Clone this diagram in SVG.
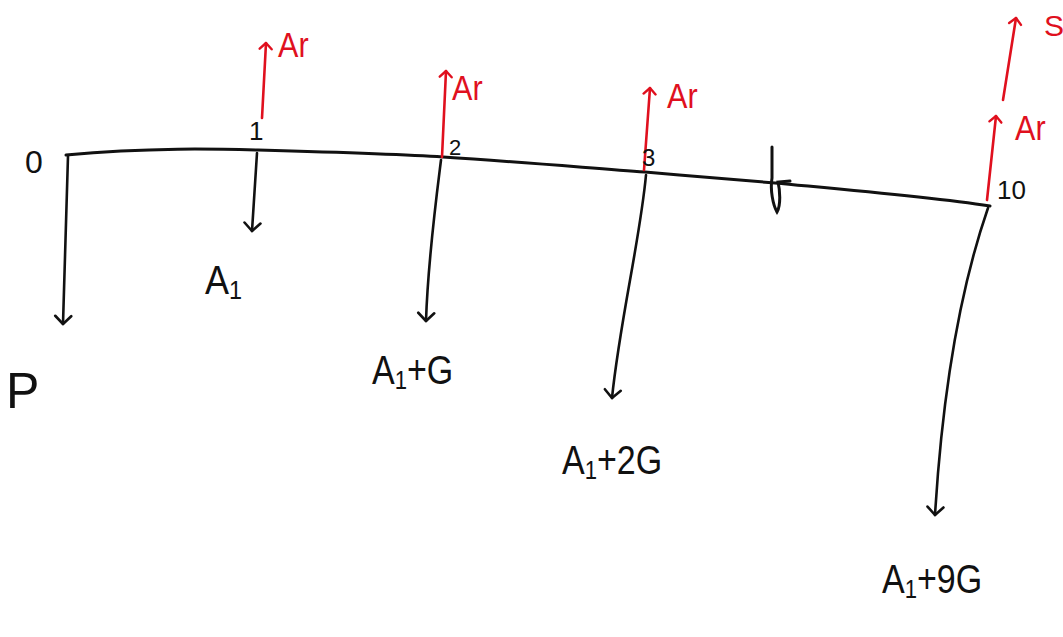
<svg xmlns="http://www.w3.org/2000/svg" width="1063" height="637" viewBox="0 0 1063 637">
<style>
.ax{fill:none;stroke:#111;stroke-width:3;stroke-linecap:round}
.dn{fill:none;stroke:#111;stroke-width:2.6;stroke-linecap:round;marker-end:url(#hb)}
.up{fill:none;stroke:#e0101e;stroke-width:2.6;stroke-linecap:round;marker-end:url(#hr)}
.t{font-family:"Liberation Sans",sans-serif;fill:#111}
.tr{font-family:"Liberation Sans",sans-serif;fill:#e0101e}
</style>
<defs>
<marker id="hb" viewBox="0 0 20 20" refX="10" refY="10" markerWidth="20" markerHeight="20" markerUnits="userSpaceOnUse" orient="auto">
<path d="M2,2 L10,10 L2,18" fill="none" stroke="#111" stroke-width="2.6" stroke-linecap="round" stroke-linejoin="round"/>
</marker>
<marker id="hr" viewBox="0 0 16 16" refX="8" refY="8" markerWidth="16" markerHeight="16" markerUnits="userSpaceOnUse" orient="auto">
<path d="M2,2 L8,8 L2,14" fill="none" stroke="#e0101e" stroke-width="2.4" stroke-linecap="round" stroke-linejoin="round"/>
</marker>
</defs>
<rect width="1063" height="637" fill="#fff"/>
<g id="connectors">
<path class="ax" d="M66,155 C150,147 220,149 258,150 C330,152 400,154 443,157 C520,162 590,168 645,172 C690,176 740,180 775,183 C860,191 930,197 990,206"/>
<path class="ax" d="M772,147 L772,178 C770,190 773,205 777,212 C781,205 780,190 778,182 L790,181" stroke-width="2.6"/>
<path class="dn" d="M68,156 L63,324"/>
<path class="dn" d="M257,153 L252,231"/>
<path class="dn" d="M441,160 C436,200 428,260 426,321"/>
<path class="dn" d="M646,175 C640,240 620,320 612,398"/>
<path class="dn" d="M988,208 C970,260 945,350 935,515"/>
<path class="up" d="M262,118 L266,43"/>
<path class="up" d="M442,157 L446,71"/>
<path class="up" d="M644,170 L650,88"/>
<path class="up" d="M987,200 L996,116"/>
<path class="up" d="M1003,100 L1016,18"/>
</g>
<g id="n0"><text class="t" x="25" y="173" font-size="32">0</text><text class="t" x="6" y="408" font-size="50">P</text></g>
<g id="n1"><text class="t" x="249" y="140" font-size="26">1</text><text class="t" x="205" y="294" font-size="40" transform="translate(205 0) scale(0.9 1) translate(-205 0)">A<tspan font-size="26" dy="5">1</tspan></text><text class="tr" x="278" y="57" font-size="36" transform="translate(278 0) scale(0.85 1) translate(-278 0)">Ar</text></g>
<g id="n2"><text class="t" x="449" y="155" font-size="22">2</text><text class="t" x="372" y="384" font-size="40" transform="translate(372 0) scale(0.85 1) translate(-372 0)">A<tspan font-size="26" dy="5">1</tspan><tspan dy="-5">+G</tspan></text><text class="tr" x="452" y="100" font-size="36" transform="translate(452 0) scale(0.85 1) translate(-452 0)">Ar</text></g>
<g id="n3"><text class="t" x="642" y="166" font-size="24">3</text><text class="t" x="562" y="474" font-size="40" transform="translate(562 0) scale(0.85 1) translate(-562 0)">A<tspan font-size="26" dy="5">1</tspan><tspan dy="-5">+2G</tspan></text><text class="tr" x="667" y="108" font-size="36" transform="translate(667 0) scale(0.85 1) translate(-667 0)">Ar</text></g>
<g id="n10"><text class="t" x="997" y="199" font-size="26">10</text><text class="t" x="882" y="593" font-size="40" transform="translate(882 0) scale(0.85 1) translate(-882 0)">A<tspan font-size="26" dy="5">1</tspan><tspan dy="-5">+9G</tspan></text><text class="tr" x="1015" y="140" font-size="36" transform="translate(1015 0) scale(0.85 1) translate(-1015 0)">Ar</text><text class="tr" x="1044" y="36" font-size="30">S</text></g>
</svg>
